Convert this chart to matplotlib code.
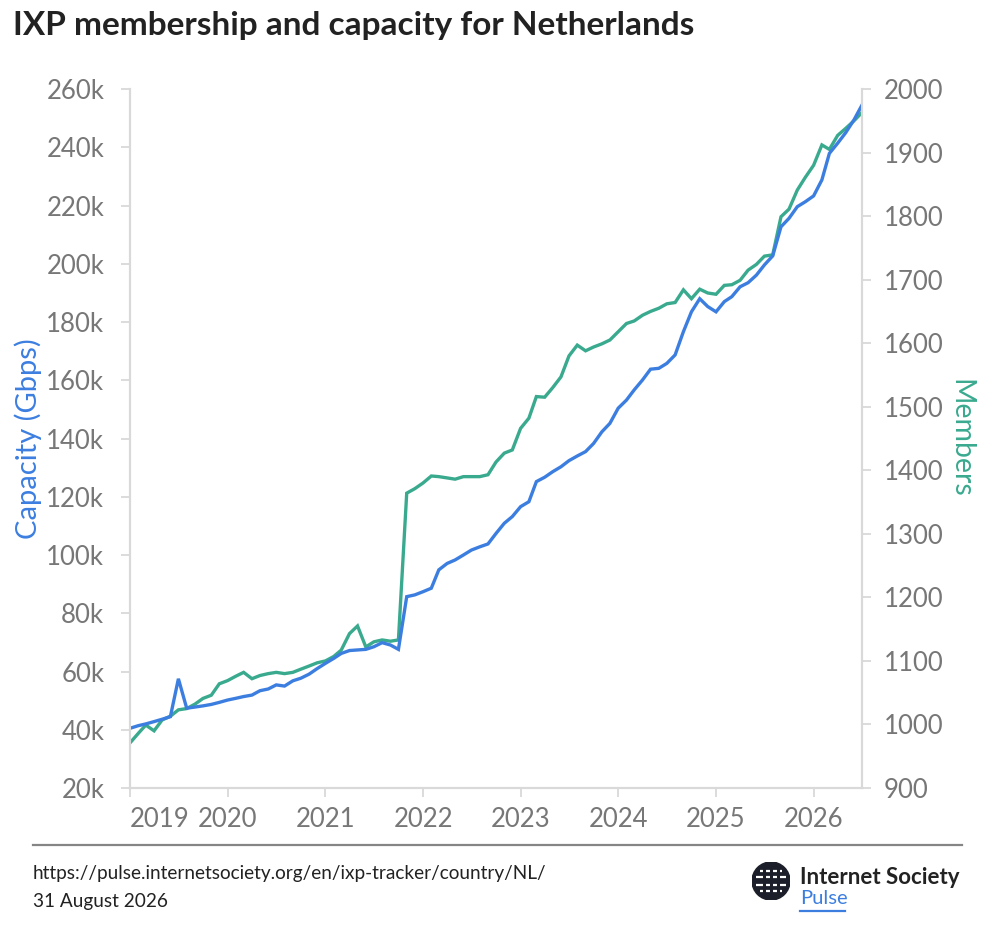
import numpy as np
import pandas as pd
import matplotlib
matplotlib.use('Agg')
import matplotlib.pyplot as plt
import matplotlib.dates as mdates
from matplotlib.ticker import FuncFormatter
from matplotlib.patches import Circle

# Monthly data, Jan 2019 .. Jul 2026
months = pd.date_range('2019-01-01', periods=91, freq='MS')

# Capacity in thousands of Gbps
capacity_k = [
    40.5, 41.4, 42.0, 42.8, 43.6, 44.5, 57.5, 47.4, 47.8, 48.2, 48.7, 49.4,
    50.2, 50.8, 51.4, 51.9, 53.4, 54.0, 55.4, 55.0, 56.8, 57.7, 59.1, 61.0,
    62.8, 64.5, 66.2, 67.2, 67.4, 67.6, 68.5, 69.9, 69.1, 67.6, 85.7, 86.3,
    87.4, 88.6, 94.9, 97.1, 98.3, 100.0, 101.7, 102.8, 103.8, 107.4, 110.9, 113.2,
    116.6, 118.3, 125.2, 126.7, 128.6, 130.3, 132.4, 134.0, 135.5, 138.3, 142.3, 145.2,
    150.4, 153.2, 156.7, 160.1, 163.8, 164.1, 165.8, 168.7, 176.7, 183.5, 188.0, 185.3,
    183.5, 187.0, 188.7, 192.1, 193.5, 196.1, 199.6, 202.7, 212.7, 215.6, 219.6, 221.3,
    223.3, 228.8, 237.9, 241.4, 245.0, 249.4, 254.5,
]

members = [
    971, 986, 999, 990, 1007, 1013, 1023, 1025, 1032, 1041, 1046, 1064,
    1069, 1076, 1082, 1072, 1077, 1080, 1082, 1080, 1082, 1087, 1092, 1097,
    1100, 1107, 1117, 1143, 1155, 1122, 1130, 1133, 1131, 1133, 1364, 1371,
    1380, 1391, 1390, 1388, 1386, 1390, 1390, 1390, 1393, 1413, 1427, 1432,
    1466, 1482, 1516, 1515, 1530, 1547, 1580, 1597, 1588, 1594, 1599, 1605,
    1618, 1631, 1635, 1644, 1650, 1655, 1662, 1664, 1684, 1670, 1685, 1679,
    1677, 1691, 1692, 1699, 1715, 1724, 1737, 1739, 1799, 1811, 1841, 1861,
    1880, 1912, 1905, 1927, 1938, 1950, 1963,
]

cap_ticks = [20, 40, 60, 80, 100, 120, 140, 160, 180, 200, 220, 240, 260]
mem_ticks = [900, 1000, 1100, 1200, 1300, 1400, 1500, 1600, 1700, 1800, 1900, 2000]
year_ticks = ['2019', '2020', '2021', '2022', '2023', '2024', '2025', '2026']

BLUE = '#3c7ee0'
GREEN = '#3aaa8f'
GRID = '#d9d9d9'
TICK_TEXT = '#777777'

plt.rcParams['font.family'] = ['Lato', 'DejaVu Sans']

fig = plt.figure(figsize=(9.94, 9.40), dpi=100)
ax = fig.add_axes([0.1308, 0.1617, 0.7364, 0.7436])
ax2 = ax.twinx()

ax2.plot(months, members, color=GREEN, lw=2.4, solid_joinstyle='miter')
ax.plot(months, capacity_k, color=BLUE, lw=2.4, solid_joinstyle='miter')
ax.set_zorder(ax2.get_zorder() + 1)
ax.patch.set_visible(False)

ax.set_xlim(months[0], months[-1])
ax.set_ylim(20, 260)
ax2.set_ylim(900, 2000)

ax.set_yticks(cap_ticks)
ax.yaxis.set_major_formatter(FuncFormatter(lambda v, p: f"{v:.0f}k"))
ax2.set_yticks(mem_ticks)

ax.set_xticks([pd.Timestamp(y + '-01-01') for y in year_ticks])
ax.set_xticklabels(year_ticks)
ax.get_xticklabels()[0].set_horizontalalignment('left')

for a in (ax, ax2):
    for s in a.spines.values():
        s.set_color(GRID)
        s.set_linewidth(1.5)
    a.spines['top'].set_visible(False)

ax.tick_params(axis='y', length=6.5, width=1.3, color=GRID, labelcolor=TICK_TEXT,
               labelsize=18.5, pad=12)
ax.tick_params(axis='x', length=6.5, width=1.3, color=GRID, labelcolor=TICK_TEXT,
               labelsize=18.5, pad=7)
ax2.tick_params(axis='y', length=6.5, width=1.3, color=GRID, labelcolor=TICK_TEXT,
                labelsize=18.5, pad=9)

ax.set_ylabel('Capacity (Gbps)', color=BLUE, fontsize=21, labelpad=3)
ax2.set_ylabel('Members', color=GREEN, fontsize=20.5, rotation=270, labelpad=22)

fig.text(0.0128, 1 - 25 / 940, 'IXP membership and capacity for Netherlands',
         fontsize=24, fontweight='bold', color='#222222', va='center', ha='left')

# footer
fig.add_artist(plt.Line2D([33 / 994, 962 / 994], [1 - 845 / 940, 1 - 845 / 940],
                          color='#858585', lw=1.6))
fig.text(33 / 994, 1 - 873 / 940, 'https://pulse.internetsociety.org/en/ixp-tracker/country/NL/',
         fontsize=13.7, color='#222222', va='center', ha='left')
fig.text(33 / 994, 1 - 901 / 940, '31 August 2026',
         fontsize=13.7, color='#222222', va='center', ha='left')

# logo
logo = fig.add_axes([752 / 994, 1 - 900 / 940, 38 / 994, 38 / 940])
logo.set_xlim(-1, 1)
logo.set_ylim(-1, 1)
logo.set_aspect('equal')
logo.axis('off')
logo.add_patch(Circle((0, 0), 1, color='#1c1f2a'))
for yy, x0, x1 in [(0.55, -0.6, 0.6), (0.2, -0.8, 0.8), (-0.2, -0.8, 0.8), (-0.55, -0.6, 0.6)]:
    logo.plot([x0, x1], [yy, yy], color='white', lw=1.6, solid_capstyle='butt')
for xx in [-0.35, 0.0, 0.35]:
    logo.plot([xx, xx], [-0.75, 0.75], color='#1c1f2a', lw=2.2)
fig.text(800 / 994, 1 - 878 / 940, 'Internet Society', fontsize=16, fontweight='bold',
         color='#222222', va='center', ha='left')
fig.text(800 / 994, 1 - 898 / 940, 'Pulse', fontsize=14.5, color=BLUE, va='center', ha='left')
fig.add_artist(plt.Line2D([800 / 994, 845 / 994], [1 - 911 / 940, 1 - 911 / 940],
                          color=BLUE, lw=1.6))

fig.savefig('out.png', dpi=100)
